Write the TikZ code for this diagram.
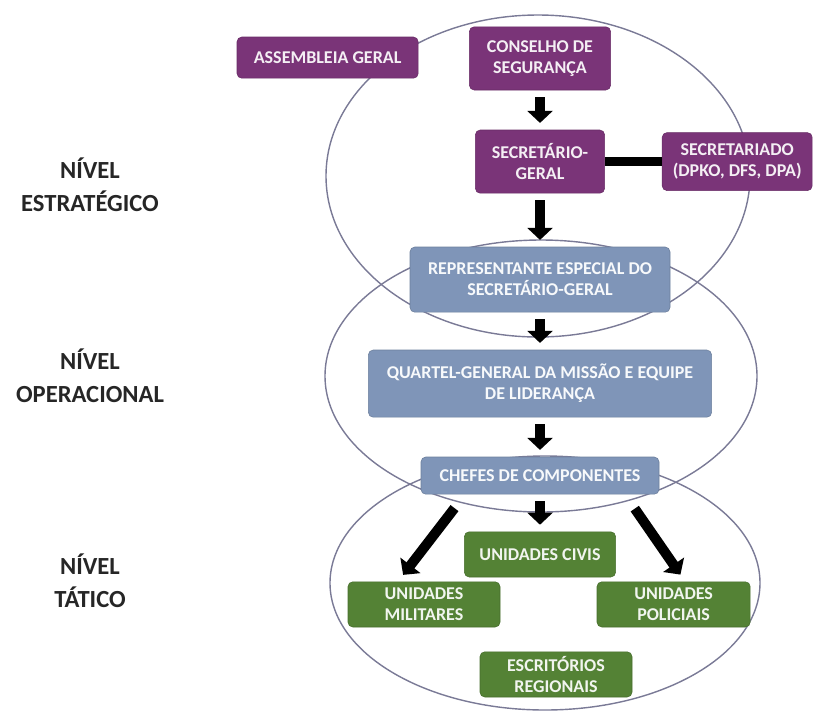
\documentclass[tikz,border=0pt]{standalone}
\usepackage{fontspec}
\setmainfont{Carlito}
\usepackage{tikz}
\usetikzlibrary{arrows.meta}

\definecolor{roxo}{RGB}{122,52,120}
\definecolor{azulcinza}{RGB}{127,149,184}
\definecolor{verde}{RGB}{84,130,53}
\definecolor{linhaelipse}{RGB}{122,122,150}

\begin{document}
\begin{tikzpicture}[
    caixa/.style={rounded corners=0.12cm, align=center, inner sep=0pt,
        font=\fontsize{12.8}{15}\selectfont\bfseries},
    caixaroxa/.style={caixa, fill=roxo, draw=roxo!85!black, text=white!92!roxo},
    caixaazul/.style={caixa, fill=azulcinza, draw=azulcinza!85!black, text=white!94!azulcinza},
    caixaverde/.style={caixa, fill=verde, draw=verde!85!black, text=white!92!verde},
    nivel/.style={align=center, font=\fontsize{17.5}{23.5}\selectfont\bfseries, text=black!85},
    seta/.style={-{Triangle[width=0.62cm,length=0.3cm]}, line width=0.25cm,
        shorten <=0.17cm, shorten >=0.17cm},
    elipse/.style={draw=linhaelipse, line width=1pt}
]
\useasboundingbox (0,0) rectangle (20.425,-17.825);

% os tres niveis
\draw[elipse] (13.45,-4.4) ellipse (5.3 and 4.025);
\draw[elipse] (13.525,-9.4) ellipse (5.4 and 3.4);
\draw[elipse] (13.625,-14.575) ellipse (5.375 and 3.175);

\node[nivel] (nivelest) at (2.25,-4.62) {NÍVEL\\ESTRATÉGICO};
\node[nivel] (nivelop) at (2.25,-9.4) {NÍVEL\\OPERACIONAL};
\node[nivel] (niveltat) at (2.25,-14.53) {NÍVEL\\TÁTICO};

% nivel estrategico
\node[caixaroxa, minimum width=4.53cm, minimum height=1.03cm] (assembleia) at (8.19,-1.44) {ASSEMBLEIA GERAL};
\node[caixaroxa, minimum width=3.53cm, minimum height=1.58cm] (conselho) at (13.5,-1.46) {CONSELHO DE\\SEGURANÇA};
\node[caixaroxa, minimum width=3.23cm, minimum height=1.58cm] (sg) at (13.5,-4.04) {SECRETÁRIO-\\GERAL};
\node[caixaroxa, minimum width=3.75cm, minimum height=1.45cm] (secretariado) at (18.43,-4.04) {SECRETARIADO\\(DPKO, DFS, DPA)};

% nivel operacional
\node[caixaazul, minimum width=6.5cm, minimum height=1.63cm] (rep) at (13.5,-6.99) {REPRESENTANTE ESPECIAL DO\\SECRETÁRIO-GERAL};
\node[caixaazul, minimum width=8.58cm, minimum height=1.68cm] (qg) at (13.5,-9.59) {QUARTEL-GENERAL DA MISSÃO E EQUIPE\\DE LIDERANÇA};
\node[caixaazul, minimum width=5.95cm, minimum height=0.93cm] (chefes) at (13.5,-11.89) {CHEFES DE COMPONENTES};

% nivel tatico
\node[caixaverde, minimum width=3.78cm, minimum height=1.13cm] (civis) at (13.5,-13.86) {UNIDADES CIVIS};
\node[caixaverde, minimum width=3.8cm, minimum height=1.13cm] (militares) at (10.6,-15.11) {UNIDADES\\MILITARES};
\node[caixaverde, minimum width=3.83cm, minimum height=1.13cm] (policiais) at (16.84,-15.11) {UNIDADES\\POLICIAIS};
\node[caixaverde, minimum width=3.8cm, minimum height=1.13cm] (escritorios) at (13.9,-16.86) {ESCRITÓRIOS\\REGIONAIS};

% ligacoes
\draw[line width=0.22cm] (sg) -- (secretariado);
\draw[seta] (conselho) -- (sg);
\draw[seta] (sg) -- (rep);
\draw[seta] (rep) -- (qg);
\draw[seta] (qg) -- (chefes);
\draw[seta] (chefes) -- (civis);
\draw[seta, shorten <=0.43cm, shorten >=0.21cm] ([xshift=-1.875cm]chefes.south) -- ([xshift=-0.65cm]militares.north);
\draw[seta, shorten <=0.43cm, shorten >=0.21cm] ([xshift=2.125cm]chefes.south) -- ([xshift=0.29cm]policiais.north);
\end{tikzpicture}
\end{document}
